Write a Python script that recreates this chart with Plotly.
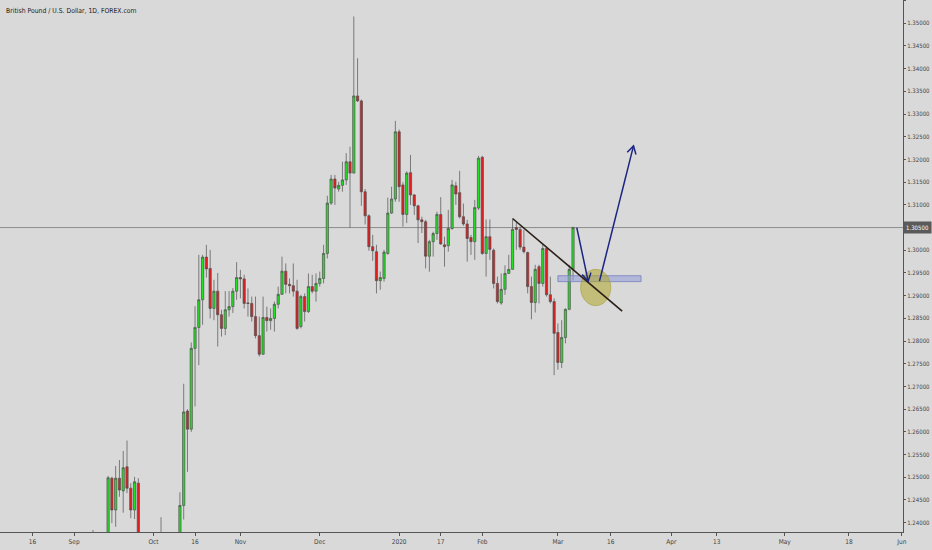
import numpy as np
import pandas as pd
import plotly.graph_objects as go

# ---------------- data ----------------
first_day = "2019-09-02"
last_day = "2020-03-06"
holidays = ["2019-12-25", "2020-01-01"]

opens = [
    1.2155, 1.2085, 1.2070, 1.2217, 1.2290, 1.2290, 1.2355, 1.2350, 1.2330, 1.2335,
    1.2498, 1.2428, 1.2498, 1.2470, 1.2523, 1.2476, 1.2428, 1.2487, 1.2320, 1.2320,
    1.2290,
    1.2295, 1.2230, 1.2300, 1.2340, 1.2330, 1.2290, 1.2210, 1.2220, 1.2438, 1.2646,
    1.2606, 1.2784, 1.2830, 1.2891, 1.2985, 1.2960, 1.2872, 1.2910, 1.2858, 1.2828,
    1.2869, 1.2876, 1.2910,
    1.2940, 1.2937, 1.2884, 1.2883, 1.2854, 1.2812, 1.2771, 1.2852, 1.2845, 1.2850,
    1.2881, 1.2903, 1.2954, 1.2925, 1.2922, 1.2910, 1.2832, 1.2898, 1.2865, 1.2920,
    1.2910,
    1.2927, 1.2938, 1.2993, 1.3104, 1.3157, 1.3135, 1.3143, 1.3155, 1.3195, 1.3170,
    1.3340, 1.3329, 1.3129, 1.3076, 1.3008, 1.2997, 1.2933, 1.2938, 1.2993, 1.3082,
    1.3113,
    1.3261, 1.3144, 1.3079, 1.3171, 1.3122, 1.3098, 1.3067, 1.3063, 1.2987, 1.3019,
    1.3037, 1.3079, 1.3012, 1.3010, 1.3048, 1.3142, 1.3127, 1.3074, 1.3058, 1.3028,
    1.3019, 1.3093,
    1.3205, 1.2993, 1.3030, 1.3000, 1.2927, 1.2884, 1.2914, 1.2949, 1.2958, 1.3050,
    1.3046, 1.3007, 1.2995, 1.2920, 1.2885, 1.2964, 1.2927, 1.3004, 1.2902, 1.2887,
    1.2819, 1.2753, 1.2808, 1.2870, 1.2958,
]
highs = [
    1.2164, 1.2100, 1.2235, 1.2325, 1.2345, 1.2384, 1.2375, 1.2370, 1.2375, 1.2503,
    1.2501, 1.2525, 1.2538, 1.2558, 1.2581, 1.2487, 1.2501, 1.2498, 1.2345, 1.2350,
    1.2325,
    1.2340, 1.2350, 1.2412, 1.2370, 1.2345, 1.2300, 1.2260, 1.2467, 1.2706, 1.2650,
    1.2797, 1.2877, 1.2990, 1.2990, 1.3012, 1.3001, 1.2935, 1.2950, 1.2869, 1.2910,
    1.2910, 1.2917, 1.2974,
    1.2957, 1.2946, 1.2916, 1.2898, 1.2898, 1.2854, 1.2898, 1.2876, 1.2872, 1.2887,
    1.2920, 1.2986, 1.2971, 1.2938, 1.2971, 1.2935, 1.2902, 1.2905, 1.2949, 1.2946,
    1.2949,
    1.2953, 1.3012, 1.3120, 1.3166, 1.3166, 1.3151, 1.3195, 1.3214, 1.3228, 1.3515,
    1.3423, 1.3332, 1.3135, 1.3079, 1.3034, 1.3012, 1.2953, 1.3001, 1.3116, 1.3140,
    1.3285,
    1.3266, 1.3150, 1.3174, 1.3210, 1.3124, 1.3100, 1.3074, 1.3067, 1.3023, 1.3041,
    1.3085, 1.3117, 1.3030, 1.3089, 1.3155, 1.3151, 1.3175, 1.3103, 1.3067, 1.3034,
    1.3111, 1.3208,
    1.3208, 1.3068, 1.3068, 1.3004, 1.2942, 1.2949, 1.2967, 1.2990, 1.3068, 1.3061,
    1.3052, 1.3045, 1.2997, 1.2942, 1.2968, 1.2968, 1.3012, 1.3008, 1.2942, 1.2894,
    1.2839, 1.2846, 1.2872, 1.2968, 1.3052,
]
lows = [
    1.2073, 1.1959, 1.2055, 1.2200, 1.2260, 1.2280, 1.2310, 1.2300, 1.2283, 1.2330,
    1.2399, 1.2391, 1.2457, 1.2422, 1.2465, 1.2410, 1.2408, 1.2300, 1.2282, 1.2270,
    1.2280,
    1.2220, 1.2205, 1.2290, 1.2300, 1.2280, 1.2195, 1.2195, 1.2205, 1.2407, 1.2512,
    1.2600, 1.2656, 1.2747, 1.2836, 1.2940, 1.2850, 1.2846, 1.2788, 1.2810, 1.2813,
    1.2854, 1.2862, 1.2891,
    1.2894, 1.2872, 1.2854, 1.2843, 1.2806, 1.2766, 1.2770, 1.2821, 1.2825, 1.2821,
    1.2872, 1.2902, 1.2905, 1.2905, 1.2898, 1.2825, 1.2828, 1.2843, 1.2862, 1.2905,
    1.2887,
    1.2920, 1.2927, 1.2982, 1.3100, 1.3100, 1.3129, 1.3129, 1.3144, 1.3050, 1.3170,
    1.3327, 1.3098, 1.3057, 1.2999, 1.2977, 1.2905, 1.2913, 1.2931, 1.2990, 1.3080,
    1.3107,
    1.3107, 1.3052, 1.3060, 1.3100, 1.3078, 1.3016, 1.3038, 1.2960, 1.2953, 1.2986,
    1.3023, 1.3012, 1.2964, 1.2997, 1.3045, 1.3100, 1.3070, 1.3054, 1.2975, 1.2990,
    1.2979, 1.3089,
    1.2990, 1.2942, 1.2979, 1.2916, 1.2883, 1.2880, 1.2902, 1.2949, 1.2957, 1.3001,
    1.3001, 1.2993, 1.2905, 1.2848, 1.2863, 1.2883, 1.2920, 1.2898, 1.2883, 1.2725,
    1.2737, 1.2741, 1.2795, 1.2868, 1.2934,
]
closes = [
    1.2085, 1.2070, 1.2217, 1.2290, 1.2290, 1.2355, 1.2350, 1.2330, 1.2335, 1.2499,
    1.2428, 1.2498, 1.2472, 1.2521, 1.2476, 1.2428, 1.2490, 1.2320, 1.2320, 1.2290,
    1.2295,
    1.2230, 1.2300, 1.2340, 1.2330, 1.2290, 1.2210, 1.2220, 1.2438, 1.2644, 1.2606,
    1.2784, 1.2830, 1.2891, 1.2985, 1.2959, 1.2872, 1.2910, 1.2858, 1.2828, 1.2869,
    1.2876, 1.2910, 1.2940,
    1.2937, 1.2883, 1.2883, 1.2854, 1.2812, 1.2771, 1.2852, 1.2845, 1.2850, 1.2881,
    1.2903, 1.2954, 1.2925, 1.2922, 1.2910, 1.2828, 1.2898, 1.2865, 1.2920, 1.2910,
    1.2927,
    1.2938, 1.2993, 1.3104, 1.3157, 1.3137, 1.3143, 1.3155, 1.3195, 1.3170, 1.3340,
    1.3329, 1.3129, 1.3076, 1.3008, 1.2999, 1.2933, 1.2940, 1.2996, 1.3082, 1.3113,
    1.3261,
    1.3140, 1.3079, 1.3170, 1.3122, 1.3098, 1.3067, 1.3063, 1.2987, 1.3019, 1.3037,
    1.3079, 1.3014, 1.3008, 1.3048, 1.3144, 1.3124, 1.3074, 1.3058, 1.3026, 1.3019,
    1.3094, 1.3203,
    1.2993, 1.3030, 1.3002, 1.2927, 1.2887, 1.2914, 1.2949, 1.2958, 1.3046, 1.3046,
    1.3007, 1.2997, 1.2920, 1.2885, 1.2958, 1.2927, 1.3004, 1.2902, 1.2887, 1.2817,
    1.2753, 1.2808, 1.2870, 1.2958, 1.3050,
]

tick_dates = ["2019-08-16", "2019-09-02", "2019-10-01", "2019-10-16", "2019-11-01",
              "2019-12-02", "2020-01-02", "2020-01-17", "2020-02-03", "2020-03-02",
              "2020-03-16", "2020-04-01", "2020-04-13", "2020-05-01", "2020-05-18",
              "2020-06-01"]
tick_labels = ["16", "Sep", "Oct", "16", "Nov", "Dec", "2020", "17", "Feb", "Mar",
               "16", "Apr", "13", "May", "18", "Jun"]

price_ticks = [1.240, 1.245, 1.250, 1.255, 1.260, 1.265, 1.270, 1.275, 1.280, 1.285,
               1.290, 1.295, 1.300, 1.305, 1.310, 1.315, 1.320, 1.325, 1.330, 1.335,
               1.340, 1.345, 1.350, 1.355]

last_price = 1.30500
view_start = "2019-08-06"   # left edge
view_end = "2020-06-01"

# drawings (dates / prices)
trend_dates = ["2020-02-13", "2020-03-19"]
trend_prices = [1.3070, 1.2866]
zone_dates = ["2020-03-02", "2020-03-24"]
zone_prices = [1.2931, 1.2944]
ellipse_dates = ["2020-03-08", "2020-03-16"]
ellipse_prices = [1.2878, 1.2958]
arrow1_dates = ["2020-03-07", "2020-03-10"]
arrow1_prices = [1.3050, 1.2932]
arrow2_dates = ["2020-03-13", "2020-03-22"]
arrow2_prices = [1.2932, 1.3230]

# ---------------- axis mapping (trading-day axis, calendar days in future) ----------------
dates = pd.bdate_range(first_day, last_day, freq="C", holidays=holidays)
idx_map = {d: i for i, d in enumerate(dates)}
last_ts = dates[-1]


def xpos(d):
    d = pd.Timestamp(d)
    if d in idx_map:
        return float(idx_map[d])
    if d > last_ts:
        return float(len(dates) - 1 + (d - last_ts).days)
    if d < dates[0]:
        return -float(np.busday_count(d.date(), dates[0].date()))
    nxt = dates[dates >= d][0]
    return float(idx_map[nxt])


xs = [xpos(d) for d in dates]
x_range = [xpos(view_start) - 0.6, xpos(view_end) + 0.3]
y_range = [1.23795, 1.35513]

W, H = 932, 550
ML, MR, MT, MB = 0, 29, 0, 18
PW, PH = W - ML - MR, H - MT - MB
sx = PW / (x_range[1] - x_range[0])
sy = PH / (y_range[1] - y_range[0])

BG = "#d9d9d9"
AX = "#555555"
FONT = "DejaVu Sans Condensed, Liberation Sans, Arial, sans-serif"

fig = go.Figure()
fig.add_trace(go.Candlestick(
    x=xs, open=opens, high=highs, low=lows, close=closes,
    increasing=dict(fillcolor="#22e022", line=dict(color="#505050", width=0.7)),
    decreasing=dict(fillcolor="#e51c1c", line=dict(color="#505050", width=0.7)),
    whiskerwidth=0, showlegend=False, hoverinfo="skip",
))

shapes = []
shapes.append(dict(type="line", xref="paper", x0=0, x1=1, yref="y",
                   y0=last_price, y1=last_price,
                   line=dict(color="#8c8c8c", width=1), layer="below"))
shapes.append(dict(type="rect", xref="x", yref="y",
                   x0=xpos(zone_dates[0]), x1=xpos(zone_dates[1]),
                   y0=zone_prices[0], y1=zone_prices[1],
                   fillcolor="rgba(150,160,215,0.6)",
                   line=dict(color="rgba(120,128,190,0.8)", width=1), layer="above"))
shapes.append(dict(type="circle", xref="x", yref="y",
                   x0=xpos(ellipse_dates[0]), x1=xpos(ellipse_dates[1]),
                   y0=ellipse_prices[0], y1=ellipse_prices[1],
                   fillcolor="rgba(175,165,40,0.55)",
                   line=dict(color="rgba(160,150,40,0.5)", width=1), layer="above"))
shapes.append(dict(type="line", xref="x", yref="y",
                   x0=xpos(trend_dates[0]), x1=xpos(trend_dates[1]),
                   y0=trend_prices[0], y1=trend_prices[1],
                   line=dict(color="#2a1f17", width=1.6), layer="above"))


def arrow(ds, ps, color="#1c2585"):
    x0, x1 = xpos(ds[0]), xpos(ds[1])
    y0, y1 = ps
    out = [dict(type="line", xref="x", yref="y", x0=x0, x1=x1, y0=y0, y1=y1,
                line=dict(color=color, width=1.5), layer="above")]
    th = np.arctan2((y1 - y0) * sy, (x1 - x0) * sx)
    L, ang = 9.0, np.radians(30)
    pts = []
    for s in (1, -1):
        a = th + np.pi + s * ang
        pts.append((x1 + L * np.cos(a) / sx, y1 + L * np.sin(a) / sy))
    path = "M {},{} L {},{} L {},{}".format(pts[0][0], pts[0][1], x1, y1, pts[1][0], pts[1][1])
    out.append(dict(type="path", xref="x", yref="y", path=path,
                    line=dict(color=color, width=1.5), layer="above"))
    return out


shapes += arrow(arrow1_dates, arrow1_prices)
shapes += arrow(arrow2_dates, arrow2_prices)

annotations = [
    dict(text="British Pound / U.S. Dollar, 1D, FOREX.com", xref="paper", yref="paper",
         x=4 / PW, y=1 - 11 / PH, xanchor="left", yanchor="middle", showarrow=False,
         font=dict(family=FONT, size=6.8, color="#1a1a1a")),
    dict(text="{:.5f}".format(last_price), xref="paper", yref="y", x=1, y=last_price,
         xanchor="left", yanchor="middle", showarrow=False, bgcolor="#5a5a5a",
         borderpad=2, font=dict(family=FONT, size=6, color="#ffffff")),
]

shown_ticks = [t for t in price_ticks if abs(t - last_price) > 1e-9]

fig.update_layout(
    width=W, height=H,
    margin=dict(l=ML, r=MR, t=MT, b=MB, autoexpand=False),
    paper_bgcolor=BG, plot_bgcolor=BG,
    boxgap=0.15,
    shapes=shapes, annotations=annotations,
    showlegend=False,
    xaxis=dict(range=x_range, rangeslider=dict(visible=False), showgrid=False,
               zeroline=False, showline=True, linecolor=AX, linewidth=1,
               ticks="outside", ticklen=3, tickcolor=AX,
               tickvals=[xpos(d) for d in tick_dates], ticktext=tick_labels,
               tickfont=dict(family=FONT, size=6.5, color="#444444")),
    yaxis=dict(range=y_range, side="right", showgrid=False, zeroline=False,
               showline=True, linecolor=AX, linewidth=1, ticks="outside",
               ticklen=2, tickcolor=AX, tickvals=shown_ticks,
               ticktext=["{:.5f}".format(t) for t in shown_ticks],
               tickfont=dict(family=FONT, size=6, color="#444444")),
)

fig.write_html(
    "out.html",
    config={"displayModeBar": False},
    post_script="document.body.style.margin='0';document.body.style.overflow='hidden';",
)
